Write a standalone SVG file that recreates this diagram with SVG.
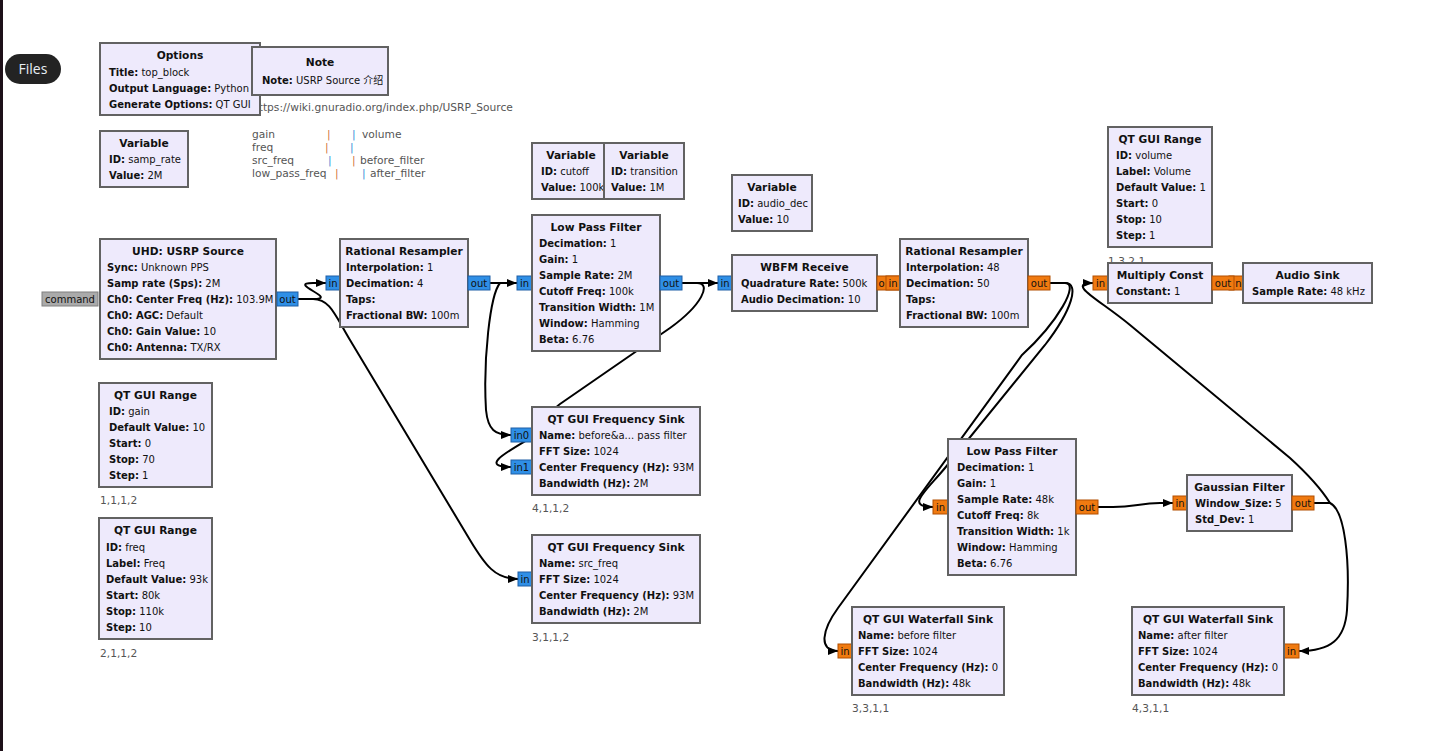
<svg xmlns="http://www.w3.org/2000/svg" width="1437" height="751" viewBox="0 0 1437 751">
<style>
text{font-family:"DejaVu Sans","Noto Sans CJK SC",sans-serif;font-size:10px;fill:#111}
.blk{fill:#eeeafc;stroke:#626262;stroke-width:2}
.t{font-weight:bold;font-size:10.67px;text-anchor:middle}
.b{font-weight:bold}
.pb{fill:#2f8fe6;stroke:#1f5fa6;stroke-width:1}
.po{fill:#f07a10;stroke:#b24f00;stroke-width:1}
.pg{fill:#aaaaaa;stroke:#808080;stroke-width:1}
.pt{text-anchor:middle;font-size:10px}
.cm{fill:#555;font-size:10.67px}
.po1{fill:#d2733a;font-size:10.67px}
.pb1{fill:#3b8ed8;font-size:10.67px}
.lb{fill:#555;font-size:10.67px}
.cn{fill:none;stroke:#000;stroke-width:2;marker-end:url(#ah)}
</style>
<defs>
<marker id="ah" viewBox="0 0 10 8" refX="10" refY="4" markerWidth="10" markerHeight="8" markerUnits="userSpaceOnUse" orient="auto">
<path d="M0,0 L10,4 L0,8 z" fill="#000"/>
</marker>
</defs>
<rect x="0" y="0" width="1437" height="751" fill="#ffffff"/>
<rect x="0" y="0" width="3" height="751" fill="#1d1018"/>
<g id="files-button">
<rect x="5" y="54" width="56" height="30" rx="15" fill="#232323"/>
<text x="33" y="74" style="font-family:'Open Sans',sans-serif;font-size:14px;fill:#e8eef4;text-anchor:middle">Files</text>
</g>

<g id="comments">
<text class="cm" x="252" y="111">https://wiki.gnuradio.org/index.php/USRP_Source</text>
<text class="cm" x="252" y="138">gain</text><text class="po1" x="327" y="138">|</text><text class="pb1" x="352" y="138">|</text><text class="cm" x="362" y="138">volume</text>
<text class="cm" x="252" y="151">freq</text><text class="po1" x="325" y="151">|</text><text class="pb1" x="350" y="151">|</text>
<text class="cm" x="252" y="164">src_freq</text><text class="pb1" x="328" y="164">|</text><text class="po1" x="352" y="164">|</text><text class="cm" x="360" y="164">before_filter</text>
<text class="cm" x="252" y="177">low_pass_freq</text><text class="po1" x="335" y="177">|</text><text class="pb1" x="362" y="177">|</text><text class="cm" x="370" y="177">after_filter</text>
</g>

<g id="connectors">
<path class="cn" d="M298,299 H313 C340,299 286,283 313,283 H326"/>
<path class="cn" d="M298,299 H313 C330,299 335,315 350,340 L470,540 C485,565 495,579 518,579"/>
<path class="cn" d="M490,283 H517"/>
<path class="cn" d="M490,283 H500 C490,295 483,360 486,410 C488,430 495,435 511,435"/>
<path class="cn" d="M682,283 H718"/>
<path class="cn" d="M682,283 H697 C712,283 702,305 670,328 L560,404 C545,415 538,430 527,440 C505,453 480,467 511,467"/>
<path class="cn" d="M1050,283 H1065 C1080,283 1072,310 1045,345 L945,468 C925,492 905,507 933,507"/>
<path class="cn" d="M1050,283 H1065 C1080,283 1058,322 1022,355 L838,608 C822,630 818,651 838,651"/>
<path class="cn" d="M1098,507 H1113 C1135,507 1140,503 1160,503 H1173"/>
<path class="cn" d="M1314,503 H1330 C1325,495 1312,478 1290,458 L1130,325 C1100,300 1065,283 1093,283"/>
<path class="cn" d="M1314,503 H1330 C1345,510 1350,560 1347,610 C1345,640 1330,651 1299,651"/>
</g>

<g id="options">
<rect class="blk" x="100" y="43" width="160" height="72"/>
<text class="t" x="180" y="59">Options</text>
<text x="109" y="76"><tspan class="b">Title:</tspan> top_block</text>
<text x="109" y="92"><tspan class="b">Output Language:</tspan> Python</text>
<text x="109" y="108"><tspan class="b">Generate Options:</tspan> QT GUI</text>
</g>
<g id="note">
<rect class="blk" x="252" y="47" width="136" height="48"/>
<text class="t" x="320" y="66">Note</text>
<text x="262" y="84"><tspan class="b">Note:</tspan> USRP Source 介绍</text>
</g>
<g id="var_samp_rate">
<rect class="blk" x="100" y="131" width="88" height="56"/>
<text class="t" x="144" y="147">Variable</text>
<text x="109" y="163"><tspan class="b">ID:</tspan> samp_rate</text>
<text x="109" y="179"><tspan class="b">Value:</tspan> 2M</text>
</g>
<g id="var_cutoff">
<rect class="blk" x="532" y="143" width="72" height="56"/>
<text class="t" x="571" y="159">Variable</text>
<text x="541" y="175"><tspan class="b">ID:</tspan> cutoff</text>
<text x="541" y="191"><tspan class="b">Value:</tspan> 100k</text>
</g>
<g id="var_transition">
<rect class="blk" x="604" y="143" width="80" height="56"/>
<text class="t" x="644" y="159">Variable</text>
<text x="611" y="175"><tspan class="b">ID:</tspan> transition</text>
<text x="611" y="191"><tspan class="b">Value:</tspan> 1M</text>
</g>
<g id="var_audio_dec">
<rect class="blk" x="732" y="175" width="80" height="56"/>
<text class="t" x="772" y="191">Variable</text>
<text x="738" y="207"><tspan class="b">ID:</tspan> audio_dec</text>
<text x="738" y="223"><tspan class="b">Value:</tspan> 10</text>
</g>
<g id="usrp_source">
<rect class="pg" x="42" y="292" width="56" height="14"/>
<text class="pt" x="70" y="302.5">command</text>
<rect class="blk" x="100" y="239" width="176" height="120"/>
<text class="t" x="188" y="255">UHD: USRP Source</text>
<text x="107" y="271"><tspan class="b">Sync:</tspan> Unknown PPS</text>
<text x="107" y="287"><tspan class="b">Samp rate (Sps):</tspan> 2M</text>
<text x="107" y="303"><tspan class="b">Ch0: Center Freq (Hz):</tspan> 103.9M</text>
<text x="107" y="319"><tspan class="b">Ch0: AGC:</tspan> Default</text>
<text x="107" y="335"><tspan class="b">Ch0: Gain Value:</tspan> 10</text>
<text x="107" y="351"><tspan class="b">Ch0: Antenna:</tspan> TX/RX</text>
<rect class="pb" x="277" y="292" width="21" height="14"/>
<text class="pt" x="287.5" y="302.5">out</text>
</g>
<g id="rational_resampler_1">
<rect class="pb" x="326" y="276" width="14" height="14"/>
<text class="pt" x="333" y="286.5">in</text>
<rect class="blk" x="340" y="239" width="128" height="88"/>
<text class="t" x="404" y="255">Rational Resampler</text>
<text x="346" y="271"><tspan class="b">Interpolation:</tspan> 1</text>
<text x="346" y="287"><tspan class="b">Decimation:</tspan> 4</text>
<text x="346" y="303"><tspan class="b">Taps:</tspan></text>
<text x="346" y="319"><tspan class="b">Fractional BW:</tspan> 100m</text>
<rect class="pb" x="468" y="276" width="22" height="14"/>
<text class="pt" x="479" y="286.5">out</text>
</g>
<g id="low_pass_filter_1">
<rect class="pb" x="517" y="276" width="15" height="14"/>
<text class="pt" x="524.5" y="286.5">in</text>
<rect class="blk" x="532" y="215" width="128" height="136"/>
<text class="t" x="596" y="231">Low Pass Filter</text>
<text x="539" y="247"><tspan class="b">Decimation:</tspan> 1</text>
<text x="539" y="263"><tspan class="b">Gain:</tspan> 1</text>
<text x="539" y="279"><tspan class="b">Sample Rate:</tspan> 2M</text>
<text x="539" y="295"><tspan class="b">Cutoff Freq:</tspan> 100k</text>
<text x="539" y="311"><tspan class="b">Transition Width:</tspan> 1M</text>
<text x="539" y="327"><tspan class="b">Window:</tspan> Hamming</text>
<text x="539" y="343"><tspan class="b">Beta:</tspan> 6.76</text>
<rect class="pb" x="660" y="276" width="22" height="14"/>
<text class="pt" x="671" y="286.5">out</text>
</g>
<g id="wbfm_receive">
<rect class="pb" x="718" y="276" width="14" height="14"/>
<text class="pt" x="725" y="286.5">in</text>
<rect class="blk" x="732" y="255" width="145" height="56"/>
<text class="t" x="804.5" y="271">WBFM Receive</text>
<text x="741" y="287"><tspan class="b">Quadrature Rate:</tspan> 500k</text>
<text x="741" y="303"><tspan class="b">Audio Decimation:</tspan> 10</text>
<rect class="po" x="877" y="276" width="22" height="14"/>
<text class="pt" x="881.5" y="286.5">o</text>
</g>
<g id="rational_resampler_2">
<rect class="po" x="886" y="276" width="14" height="14"/>
<text class="pt" x="893" y="286.5">in</text>
<rect class="blk" x="900" y="239" width="128" height="88"/>
<text class="t" x="964" y="255">Rational Resampler</text>
<text x="906" y="271"><tspan class="b">Interpolation:</tspan> 48</text>
<text x="906" y="287"><tspan class="b">Decimation:</tspan> 50</text>
<text x="906" y="303"><tspan class="b">Taps:</tspan></text>
<text x="906" y="319"><tspan class="b">Fractional BW:</tspan> 100m</text>
<rect class="po" x="1028" y="276" width="22" height="14"/>
<text class="pt" x="1039" y="286.5">out</text>
</g>
<g id="qt_gui_range_volume">
<rect class="blk" x="1108" y="127" width="104" height="120"/>
<text class="t" x="1160" y="143">QT GUI Range</text>
<text x="1116" y="159"><tspan class="b">ID:</tspan> volume</text>
<text x="1116" y="175"><tspan class="b">Label:</tspan> Volume</text>
<text x="1116" y="191"><tspan class="b">Default Value:</tspan> 1</text>
<text x="1116" y="207"><tspan class="b">Start:</tspan> 0</text>
<text x="1116" y="223"><tspan class="b">Stop:</tspan> 10</text>
<text x="1116" y="239"><tspan class="b">Step:</tspan> 1</text>
<text class="lb" x="1108" y="265">1,3,2,1</text>
</g>
<g id="audio_sink">
<rect class="po" x="1229" y="276" width="14" height="14"/>
<text class="pt" x="1238.5" y="286.5">n</text>
<rect class="blk" x="1243" y="263" width="129" height="40"/>
<text class="t" x="1307.5" y="279">Audio Sink</text>
<text x="1252" y="295"><tspan class="b">Sample Rate:</tspan> 48 kHz</text>
</g>
<g id="multiply_const">
<rect class="po" x="1093" y="276" width="15" height="14"/>
<text class="pt" x="1100.5" y="286.5">in</text>
<rect class="blk" x="1108" y="263" width="104" height="40"/>
<text class="t" x="1160" y="279">Multiply Const</text>
<text x="1116" y="295"><tspan class="b">Constant:</tspan> 1</text>
<rect class="po" x="1212" y="276" width="22" height="14"/>
<text class="pt" x="1223" y="286.5">out</text>
</g>
<g id="qt_gui_range_gain">
<rect class="blk" x="99" y="383" width="113" height="104"/>
<text class="t" x="155.5" y="399">QT GUI Range</text>
<text x="109" y="415"><tspan class="b">ID:</tspan> gain</text>
<text x="109" y="431"><tspan class="b">Default Value:</tspan> 10</text>
<text x="109" y="447"><tspan class="b">Start:</tspan> 0</text>
<text x="109" y="463"><tspan class="b">Stop:</tspan> 70</text>
<text x="109" y="479"><tspan class="b">Step:</tspan> 1</text>
<text class="lb" x="100" y="504">1,1,1,2</text>
</g>
<g id="qt_gui_range_freq">
<rect class="blk" x="99" y="518" width="113" height="121"/>
<text class="t" x="155.5" y="534">QT GUI Range</text>
<text x="106" y="551"><tspan class="b">ID:</tspan> freq</text>
<text x="106" y="567"><tspan class="b">Label:</tspan> Freq</text>
<text x="106" y="583"><tspan class="b">Default Value:</tspan> 93k</text>
<text x="106" y="599"><tspan class="b">Start:</tspan> 80k</text>
<text x="106" y="615"><tspan class="b">Stop:</tspan> 110k</text>
<text x="106" y="631"><tspan class="b">Step:</tspan> 10</text>
<text class="lb" x="100" y="657">2,1,1,2</text>
</g>
<g id="freq_sink_1">
<rect class="pb" x="511" y="428" width="21" height="14"/>
<text class="pt" x="521.5" y="438.5">in0</text>
<rect class="pb" x="511" y="460" width="21" height="14"/>
<text class="pt" x="521.5" y="470.5">in1</text>
<rect class="blk" x="532" y="407" width="168" height="88"/>
<text class="t" x="616" y="423">QT GUI Frequency Sink</text>
<text x="539" y="439"><tspan class="b">Name:</tspan> before&amp;a... pass filter</text>
<text x="539" y="455"><tspan class="b">FFT Size:</tspan> 1024</text>
<text x="539" y="471"><tspan class="b">Center Frequency (Hz):</tspan> 93M</text>
<text x="539" y="487"><tspan class="b">Bandwidth (Hz):</tspan> 2M</text>
<text class="lb" x="532" y="512">4,1,1,2</text>
</g>
<g id="freq_sink_2">
<rect class="pb" x="518" y="572" width="14" height="14"/>
<text class="pt" x="525" y="582.5">in</text>
<rect class="blk" x="532" y="535" width="168" height="88"/>
<text class="t" x="616" y="551">QT GUI Frequency Sink</text>
<text x="539" y="567"><tspan class="b">Name:</tspan> src_freq</text>
<text x="539" y="583"><tspan class="b">FFT Size:</tspan> 1024</text>
<text x="539" y="599"><tspan class="b">Center Frequency (Hz):</tspan> 93M</text>
<text x="539" y="615"><tspan class="b">Bandwidth (Hz):</tspan> 2M</text>
<text class="lb" x="532" y="641">3,1,1,2</text>
</g>
<g id="low_pass_filter_2">
<rect class="po" x="933" y="500" width="15" height="14"/>
<text class="pt" x="940.5" y="510.5">in</text>
<rect class="blk" x="948" y="439" width="128" height="136"/>
<text class="t" x="1012" y="455">Low Pass Filter</text>
<text x="957" y="471"><tspan class="b">Decimation:</tspan> 1</text>
<text x="957" y="487"><tspan class="b">Gain:</tspan> 1</text>
<text x="957" y="503"><tspan class="b">Sample Rate:</tspan> 48k</text>
<text x="957" y="519"><tspan class="b">Cutoff Freq:</tspan> 8k</text>
<text x="957" y="535"><tspan class="b">Transition Width:</tspan> 1k</text>
<text x="957" y="551"><tspan class="b">Window:</tspan> Hamming</text>
<text x="957" y="567"><tspan class="b">Beta:</tspan> 6.76</text>
<rect class="po" x="1076" y="500" width="22" height="14"/>
<text class="pt" x="1087" y="510.5">out</text>
</g>
<g id="gaussian_filter">
<rect class="po" x="1173" y="496" width="14" height="14"/>
<text class="pt" x="1180" y="506.5">in</text>
<rect class="blk" x="1187" y="475" width="105" height="56"/>
<text class="t" x="1239.5" y="491">Gaussian Filter</text>
<text x="1195" y="507"><tspan class="b">Window_Size:</tspan> 5</text>
<text x="1195" y="523"><tspan class="b">Std_Dev:</tspan> 1</text>
<rect class="po" x="1292" y="496" width="22" height="14"/>
<text class="pt" x="1303" y="506.5">out</text>
</g>
<g id="waterfall_sink_1">
<rect class="po" x="838" y="644" width="14" height="14"/>
<text class="pt" x="845" y="654.5">in</text>
<rect class="blk" x="852" y="607" width="152" height="88"/>
<text class="t" x="928" y="623">QT GUI Waterfall Sink</text>
<text x="858" y="639"><tspan class="b">Name:</tspan> before filter</text>
<text x="858" y="655"><tspan class="b">FFT Size:</tspan> 1024</text>
<text x="858" y="671"><tspan class="b">Center Frequency (Hz):</tspan> 0</text>
<text x="858" y="687"><tspan class="b">Bandwidth (Hz):</tspan> 48k</text>
<text class="lb" x="852" y="712">3,3,1,1</text>
</g>
<g id="waterfall_sink_2">
<rect class="po" x="1284" y="644" width="15" height="14"/>
<text class="pt" x="1291.5" y="654.5">in</text>
<rect class="blk" x="1132" y="607" width="152" height="88"/>
<text class="t" x="1208" y="623">QT GUI Waterfall Sink</text>
<text x="1138" y="639"><tspan class="b">Name:</tspan> after filter</text>
<text x="1138" y="655"><tspan class="b">FFT Size:</tspan> 1024</text>
<text x="1138" y="671"><tspan class="b">Center Frequency (Hz):</tspan> 0</text>
<text x="1138" y="687"><tspan class="b">Bandwidth (Hz):</tspan> 48k</text>
<text class="lb" x="1132" y="712">4,3,1,1</text>
</g>
</svg>
